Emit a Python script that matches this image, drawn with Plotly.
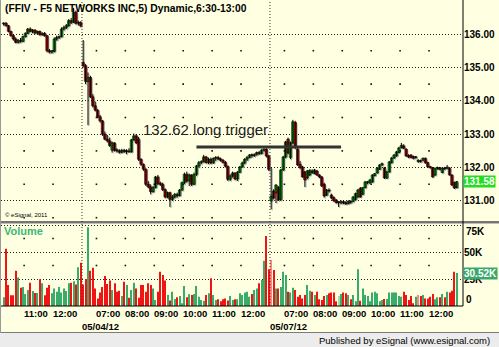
import plotly.graph_objects as go

# ---------------- data ----------------
TITLE = "(FFIV - F5 NETWORKS INC,5) Dynamic,6:30-13:00"
SESSION_DATES = ["05/03/12", "05/04/12", "05/07/12"]
SESSION_FIRST_BAR = ["10:15", "06:30", "06:30"]
SESSION_BARS = [33, 78, 78]

OPEN = [
    # 05/03/12
    136.30, 136.32, 136.25, 136.08, 135.95, 135.85, 135.75, 135.80, 135.78, 135.92, 136.02,
    136.15, 136.08, 136.12, 136.03, 136.08, 135.98, 136.02, 135.95, 135.50, 135.46, 135.48,
    135.85, 135.90, 135.92, 136.15, 136.20, 136.25, 136.40, 136.35, 136.65, 136.32, 136.35,
    # 05/04/12
    135.15, 135.05, 134.58, 134.70, 134.12, 133.85, 133.72, 133.52, 133.40, 133.00, 132.85,
    132.80, 132.52, 132.74, 132.52, 132.50, 132.46, 132.52, 132.48, 132.50, 132.47, 132.83,
    132.95, 132.85, 132.25, 132.10, 131.95, 131.50, 131.42, 131.28, 131.40, 131.72, 131.52,
    131.50, 131.34, 131.12, 131.25, 131.05, 131.12, 131.20, 131.16, 131.33, 131.55, 131.80,
    131.60, 131.78, 131.50, 131.80, 132.05, 132.15, 132.18, 132.32, 132.15, 132.25, 132.14,
    132.28, 132.30, 132.26, 132.22, 132.16, 132.04, 131.65, 131.75, 131.84, 131.66, 131.86,
    132.02, 132.14, 132.25, 132.30, 132.38, 132.36, 132.40, 132.45, 132.42, 132.52, 132.55,
    132.35,
    # 05/07/12
    131.00, 131.30, 131.24, 131.40, 131.05, 131.93, 132.32, 132.85, 132.30, 132.74, 133.35,
    132.55, 132.10, 132.02, 131.87, 131.70, 131.78, 131.90, 131.82, 131.90, 131.78, 131.72,
    131.50, 131.18, 131.33, 131.18, 131.10, 131.03, 130.97, 130.95, 130.98, 130.94, 130.92,
    130.99, 130.99, 131.05, 131.12, 131.38, 131.20, 131.40, 131.55, 131.54, 131.57, 131.76,
    131.84, 131.95, 132.08, 131.99, 131.69, 131.87, 132.15, 132.29, 132.35, 132.45, 132.60,
    132.65, 132.55, 132.36, 132.38, 132.33, 132.30, 132.18, 132.20, 132.22, 132.28, 132.15,
    132.02, 132.00, 131.78, 131.96, 132.00, 131.85, 131.98, 131.98, 131.99, 131.78, 131.55,
    131.40,
]
HIGH = [
    136.35, 136.36, 136.27, 136.10, 136.00, 135.90, 135.85, 135.88, 135.95, 136.05, 136.18,
    136.20, 136.15, 136.14, 136.10, 136.10, 136.05, 136.06, 135.97, 135.55, 135.52, 135.90,
    135.95, 135.95, 136.20, 136.25, 136.30, 136.45, 136.48, 136.78, 136.70, 136.40, 136.38,
    135.82, 135.10, 134.85, 134.75, 134.20, 133.98, 133.75, 133.58, 133.42, 133.08, 132.98,
    132.90, 132.78, 132.76, 132.58, 132.55, 132.56, 132.56, 132.55, 132.58, 132.86, 133.02,
    133.00, 132.92, 132.28, 132.12, 131.98, 131.60, 131.50, 131.45, 131.75, 131.78, 131.58,
    131.55, 131.38, 131.28, 131.28, 131.18, 131.24, 131.25, 131.36, 131.58, 131.85, 131.88,
    131.82, 131.80, 131.85, 132.08, 132.20, 132.22, 132.38, 132.35, 132.30, 132.30, 132.30,
    132.34, 132.35, 132.30, 132.26, 132.20, 132.06, 131.80, 131.88, 131.86, 131.90, 132.05,
    132.18, 132.28, 132.35, 132.40, 132.42, 132.42, 132.48, 132.50, 132.55, 132.58, 132.58,
    132.38,
    132.00, 131.35, 131.50, 131.45, 131.96, 132.35, 132.80, 132.90, 132.78, 133.43, 133.40,
    132.60, 132.20, 132.05, 131.90, 131.93, 131.95, 131.95, 131.96, 131.93, 131.80, 131.75,
    131.55, 131.36, 131.38, 131.22, 131.14, 131.06, 131.00, 131.02, 131.02, 131.00, 131.02,
    131.02, 131.15, 131.25, 131.36, 131.42, 131.42, 131.60, 131.60, 131.66, 131.80, 131.84,
    132.01, 132.10, 132.15, 132.02, 131.90, 132.20, 132.32, 132.40, 132.50, 132.62, 132.74,
    132.70, 132.58, 132.40, 132.40, 132.36, 132.35, 132.25, 132.24, 132.30, 132.30, 132.18,
    132.05, 132.02, 132.00, 132.03, 132.02, 132.00, 132.02, 132.08, 132.01, 131.80, 131.58,
    131.60,
]
LOW = [
    136.25, 136.22, 136.05, 135.92, 135.80, 135.72, 135.72, 135.74, 135.76, 135.90, 136.00,
    136.05, 136.02, 136.00, 136.00, 135.95, 135.95, 135.92, 135.45, 135.42, 135.42, 135.45,
    135.80, 135.85, 135.90, 136.10, 136.15, 136.22, 136.30, 136.33, 136.28, 136.25, 136.20,
    135.00, 134.50, 133.27, 134.08, 133.80, 133.68, 133.48, 133.35, 132.95, 132.82, 132.75,
    132.62, 132.45, 132.48, 132.45, 132.42, 132.43, 132.44, 132.40, 132.45, 132.45, 132.80,
    132.70, 132.20, 132.05, 131.90, 131.45, 131.38, 131.20, 131.25, 131.38, 131.48, 131.45,
    131.30, 131.08, 131.08, 130.82, 131.00, 131.08, 131.10, 131.14, 131.30, 131.50, 131.55,
    131.45, 131.45, 131.48, 131.75, 132.00, 132.10, 132.15, 132.12, 132.10, 132.10, 132.12,
    132.20, 132.22, 132.18, 132.12, 132.00, 131.60, 131.60, 131.70, 131.62, 131.60, 131.84,
    132.00, 132.10, 132.20, 132.28, 132.30, 132.32, 132.36, 132.38, 132.40, 132.48, 132.30,
    131.90,
    130.75, 131.05, 130.94, 131.00, 131.00, 131.90, 132.28, 132.40, 132.25, 132.70, 132.55,
    132.05, 131.95, 131.70, 131.42, 131.65, 131.75, 131.82, 131.80, 131.75, 131.68, 131.42,
    131.10, 131.15, 131.25, 131.05, 130.98, 130.92, 130.82, 130.90, 130.90, 130.88, 130.90,
    130.92, 130.96, 131.02, 131.10, 131.10, 131.18, 131.38, 131.50, 131.52, 131.55, 131.74,
    131.82, 131.93, 132.05, 131.66, 131.66, 131.85, 132.12, 132.26, 132.33, 132.43, 132.57,
    132.55, 132.32, 132.28, 132.28, 132.25, 132.27, 132.15, 132.15, 132.20, 132.12, 132.00,
    131.97, 131.70, 131.75, 131.94, 131.92, 131.83, 131.93, 131.96, 131.76, 131.45, 131.36,
    131.38,
]
CLOSE = [
    136.32, 136.25, 136.08, 135.95, 135.85, 135.75, 135.80, 135.78, 135.92, 136.02, 136.15,
    136.08, 136.12, 136.03, 136.08, 135.98, 136.02, 135.95, 135.50, 135.46, 135.48, 135.85,
    135.90, 135.92, 136.15, 136.20, 136.25, 136.40, 136.35, 136.65, 136.32, 136.35, 136.25,
    135.05, 134.58, 134.70, 134.12, 133.85, 133.72, 133.52, 133.40, 133.00, 132.85, 132.80,
    132.66, 132.74, 132.52, 132.50, 132.46, 132.52, 132.48, 132.50, 132.47, 132.83, 132.95,
    132.74, 132.25, 132.10, 131.95, 131.50, 131.42, 131.28, 131.40, 131.72, 131.52, 131.50,
    131.34, 131.12, 131.25, 131.05, 131.12, 131.20, 131.16, 131.33, 131.55, 131.80, 131.60,
    131.78, 131.50, 131.80, 132.05, 132.15, 132.18, 132.32, 132.15, 132.25, 132.14, 132.28,
    132.30, 132.26, 132.22, 132.16, 132.04, 131.65, 131.75, 131.84, 131.66, 131.86, 132.02,
    132.14, 132.25, 132.30, 132.38, 132.36, 132.40, 132.45, 132.42, 132.52, 132.55, 132.35,
    131.95,
    131.15, 131.09, 131.48, 131.03, 131.93, 132.32, 132.77, 132.44, 132.74, 133.37, 132.62,
    132.08, 132.00, 131.72, 131.63, 131.90, 131.92, 131.85, 131.93, 131.78, 131.72, 131.45,
    131.15, 131.33, 131.30, 131.09, 131.00, 130.95, 130.95, 130.98, 130.94, 130.92, 130.99,
    130.96, 131.12, 131.22, 131.33, 131.12, 131.40, 131.57, 131.57, 131.63, 131.78, 131.82,
    131.99, 132.08, 132.12, 131.69, 131.87, 132.17, 132.29, 132.38, 132.47, 132.59, 132.66,
    132.58, 132.35, 132.32, 132.30, 132.28, 132.32, 132.22, 132.18, 132.28, 132.14, 132.02,
    132.00, 131.72, 131.98, 132.00, 131.95, 131.98, 131.96, 132.00, 131.78, 131.48, 131.39,
    131.58,
]
VOLUME_K = [
    8, 53, 19.4, 10, 10, 32.7, 26.5, 17, 17.5, 11, 14.8, 21.6, 14, 12, 12, 24.7, 21, 10, 17,
    19.4, 11.7, 16.3, 13.3, 17.5, 12.6, 16.3, 14, 21, 21.6, 23, 20, 35.8, 40,
    20, 25, 72.9, 32.7, 35.5, 16.3, 7, 12.4, 17.5, 27.8, 20.4, 23.5, 14.8, 21, 13.3, 14.2,
    9.3, 22.5, 19.4, 7.7, 14.8, 21.6, 16.3, 7.7, 19.4, 19.4, 13.3, 21, 19.4, 16.3, 5.6, 13.3,
    31.8, 28.7, 23.5, 10.2, 5, 13.3, 6.5, 8, 9.3, 2.5, 18.5, 8, 10.8, 10.2, 11, 18.5, 8.6,
    5.6, 4.9, 10.2, 11.7, 25.6, 10.2, 5.6, 6.2, 4.3, 6.2, 7, 5, 9.3, 5.6, 6.2, 6.2, 11.7,
    10.2, 12.4, 13.3, 8.6, 11, 14.8, 16.3, 21, 24, 42, 64.8, 34,
    42.6, 33.3, 16.3, 16.3, 17.5, 31.8, 28.7, 13.3, 12.4, 17, 14.8, 8.6, 10.2, 7, 10.2, 19.4,
    14.2, 13.3, 10.2, 13.3, 6.2, 5.6, 9.3, 10.2, 11.7, 12.4, 12.4, 4.3, 9.3, 11, 12.4, 11.7,
    10.2, 6.2, 10.2, 4.3, 34, 4.9, 16.3, 10.2, 9.3, 4.3, 12.4, 13.3, 11.7, 4.3, 5.6, 6.5,
    6.5, 12.4, 12.4, 12.4, 12.4, 9.3, 8.6, 13.3, 10.2, 5.6, 9.3, 2.5, 8.6, 10.2, 9.3, 10.2,
    7, 7, 8.6, 11, 6.2, 8, 8, 11, 8, 13.3, 12.4, 14.2, 31.8, 30.52,
]

HOUR_TICKS = [
    ("05/03/12", "11:00"), ("05/03/12", "12:00"),
    ("05/04/12", "07:00"), ("05/04/12", "08:00"), ("05/04/12", "09:00"),
    ("05/04/12", "10:00"), ("05/04/12", "11:00"), ("05/04/12", "12:00"),
    ("05/07/12", "07:00"), ("05/07/12", "08:00"), ("05/07/12", "09:00"),
    ("05/07/12", "10:00"), ("05/07/12", "11:00"), ("05/07/12", "12:00"),
]
DATE_LABELS = ["05/04/12", "05/07/12"]
PRICE_TICKS = [131, 132, 133, 134, 135, 136]
VOLUME_TICKS = [0, 25, 50, 75]
PRICE_RANGE = [130.371, 137.018]
VOLUME_RANGE = [0, 76.85]
LAST_VOLUME_K = 30.52
TRIGGER_PRICE = 132.62
TRIGGER_FROM = ("05/04/12", "10:25")
TRIGGER_TO = ("05/07/12", "08:55")
TRIGGER_TEXT = "132.62 long trigger"
TRIGGER_TEXT_AT = ("05/04/12", "08:30", 133.13)

# ---------------- helpers ----------------
def to_min(hhmm):
    h, m = hhmm.split(":")
    return int(h) * 60 + int(m)

def bar_index(date, hhmm):
    d = SESSION_DATES.index(date)
    return sum(SESSION_BARS[:d]) + (to_min(hhmm) - to_min(SESSION_FIRST_BAR[d])) / 5

n = len(CLOSE)
X = list(range(n))
XR = [-1.1, 190.6]

BG = "#FFFFE1"
FONT = "Liberation Sans, Arial, sans-serif"
UP, DN = "#00DD00", "#FF0000"
SHADOW = "#B0B0B0"

body_base = [min(o, c) for o, c in zip(OPEN, CLOSE)]
body_h = [max(abs(c - o), 0.03) for o, c in zip(OPEN, CLOSE)]
body_col = [UP if c >= o else DN for o, c in zip(OPEN, CLOSE)]
wick_x, wick_y = [], []
for i in X:
    wick_x += [i, i, None]
    wick_y += [LOW[i], HIGH[i], None]

vol_colors = []
for i in range(n):
    prev = CLOSE[i - 1] if i > 0 else OPEN[i]
    if CLOSE[i] >= prev:
        vol_colors.append("#38AC6A" if CLOSE[i] >= OPEN[i] else "#A2DBAC")
    else:
        vol_colors.append("#F01414" if CLOSE[i] <= OPEN[i] else "#F7877F")

fig = go.Figure()

# shadow candles (base axes with slightly shifted ranges)
fig.add_trace(go.Scatter(x=wick_x, y=wick_y, mode="lines", line=dict(color=SHADOW, width=1),
                         xaxis="x", yaxis="y", hoverinfo="skip", showlegend=False))
fig.add_trace(go.Bar(x=X, y=body_h, base=body_base, width=1.0,
                     marker=dict(color=SHADOW, line=dict(color=SHADOW, width=0)),
                     xaxis="x", yaxis="y", hoverinfo="skip", showlegend=False))

# main candles (overlay axes)
fig.add_trace(go.Scatter(x=wick_x, y=wick_y, mode="lines", line=dict(color="#000000", width=1),
                         xaxis="x3", yaxis="y3", hoverinfo="skip", showlegend=False))
fig.add_trace(go.Bar(x=X, y=body_h, base=body_base, width=1.0,
                     marker=dict(color=body_col, line=dict(color="#000000", width=0.6)),
                     xaxis="x3", yaxis="y3", hoverinfo="skip", showlegend=False))

# vertical grid dots
tick_pos = [bar_index(d, t) - 0.5 for d, t in HOUR_TICKS]
half_levels = [p + 0.5 for p in [130] + PRICE_TICKS[:-1]]
fig.add_trace(go.Scatter(
    x=[x for x in tick_pos for _ in half_levels],
    y=[y for _ in tick_pos for y in half_levels],
    mode="markers", marker=dict(symbol="square", size=1.6, color="#111111", line_width=0),
    xaxis="x3", yaxis="y3", hoverinfo="skip", showlegend=False))
vhalf = [v + 12.5 for v in VOLUME_TICKS[1:3]]
fig.add_trace(go.Scatter(
    x=[x for x in tick_pos for _ in vhalf],
    y=[y for _ in tick_pos for y in vhalf],
    mode="markers", marker=dict(symbol="square", size=1.6, color="#111111", line_width=0),
    xaxis="x2", yaxis="y2", hoverinfo="skip", showlegend=False))

# volume
fig.add_trace(go.Bar(
    x=X, y=VOLUME_K, marker=dict(color=vol_colors, line_width=0), width=0.42,
    xaxis="x2", yaxis="y2", hoverinfo="skip", showlegend=False))

PRICE_DOM = [84 / 306, 1]
VOL_DOM = [0, 83 / 306]
griddash = "1px,2px"

fig.update_layout(
    width=499, height=347,
    margin=dict(l=1, r=36, t=0, b=41),
    paper_bgcolor=BG, plot_bgcolor=BG,
    showlegend=False, hovermode=False, barmode="overlay",
    font=dict(family=FONT, color="#000000"),
    xaxis=dict(domain=[0, 1], anchor="y", range=[XR[0] - 0.45, XR[1] - 0.45], visible=False),
    yaxis=dict(domain=PRICE_DOM, anchor="x", range=[PRICE_RANGE[0] + 0.03, PRICE_RANGE[1] + 0.03],
               visible=False),
    xaxis3=dict(overlaying="x", anchor="y3", range=XR, visible=False),
    yaxis3=dict(overlaying="y", anchor="x3", side="right", range=PRICE_RANGE,
                tickvals=PRICE_TICKS, ticktext=[f"{p:.2f}" for p in PRICE_TICKS],
                showgrid=True, gridcolor="#222222", gridwidth=1, griddash=griddash,
                zeroline=False, ticks="", showline=False,
                tickfont=dict(family=FONT, size=10, color="#000000", weight="bold")),
    xaxis2=dict(domain=[0, 1], anchor="y2", range=XR, visible=False),
    yaxis2=dict(domain=VOL_DOM, anchor="x2", side="right", range=VOLUME_RANGE,
                tickvals=VOLUME_TICKS[1:], ticktext=["25K", "50K", ""],
                showgrid=True, gridcolor="#222222", gridwidth=1, griddash=griddash,
                zeroline=False, ticks="", showline=False,
                tickfont=dict(family=FONT, size=10, color="#000000", weight="bold")),
)

def px_x(px):
    return (px - 1) / 462

def px_y(py):
    return (306 - py) / 306

shapes = []
shapes.append(dict(type="rect", xref="paper", yref="paper", x0=px_x(-2), x1=px_x(501),
                   y0=px_y(349), y1=px_y(333), fillcolor="#ECECEC", line_width=0, layer="below"))
shapes.append(dict(type="line", xref="paper", yref="paper", x0=px_x(-2), x1=px_x(501),
                   y0=px_y(332.5), y1=px_y(332.5), line=dict(color="#7A7A7A", width=1)))
shapes.append(dict(type="line", xref="paper", yref="paper", x0=px_x(-2), x1=px_x(501),
                   y0=px_y(222), y1=px_y(222), line=dict(color="#4A4A4A", width=1.5)))
shapes.append(dict(type="line", xref="paper", yref="paper", x0=px_x(-2), x1=px_x(501),
                   y0=px_y(223.5), y1=px_y(223.5), line=dict(color="#BDBDBD", width=1)))
shapes.append(dict(type="line", xref="paper", yref="paper", x0=px_x(0), x1=1,
                   y0=0, y1=0, line=dict(color="#000000", width=1)))
shapes.append(dict(type="line", xref="paper", yref="paper", x0=1, x1=1,
                   y0=0, y1=1, line=dict(color="#000000", width=1)))
shapes.append(dict(type="line", xref="paper", yref="paper", x0=px_x(0.5), x1=px_x(0.5),
                   y0=px_y(333), y1=1, line=dict(color="#9A9A9A", width=1)))
for d in SESSION_DATES[1:]:
    xb = bar_index(d, SESSION_FIRST_BAR[SESSION_DATES.index(d)]) - 0.5
    shapes.append(dict(type="line", xref="x3", yref="paper", x0=xb, x1=xb, y0=0, y1=1,
                       line=dict(color="#333333", width=1, dash=griddash)))
shapes.append(dict(type="line", xref="x3", yref="y3",
                   x0=bar_index(*TRIGGER_FROM), x1=bar_index(*TRIGGER_TO),
                   y0=TRIGGER_PRICE, y1=TRIGGER_PRICE,
                   line=dict(color="#333333", width=3)))
fig.update_layout(shapes=shapes)

ann = []
ann.append(dict(text=f"<b>{TITLE}</b>", xref="paper", yref="paper", x=px_x(2.5), y=px_y(8),
                xanchor="left", yanchor="middle", showarrow=False,
                font=dict(family=FONT, size=10.3, color="#000000")))
ann.append(dict(text="© eSignal, 2011", xref="paper", yref="paper", x=px_x(2.5), y=px_y(215),
                xanchor="left", yanchor="middle", showarrow=False,
                font=dict(family=FONT, size=6, color="#000000")))
ann.append(dict(text="<b>Volume</b>", xref="paper", yref="paper", x=px_x(2), y=px_y(231),
                xanchor="left", yanchor="middle", showarrow=False,
                font=dict(family=FONT, size=11, color="#3DB678")))
for (d, t), xp in zip(HOUR_TICKS, tick_pos):
    ann.append(dict(text=f"<b>{t}</b>", xref="x3", yref="paper", x=xp, y=px_y(313),
                    xanchor="left", yanchor="middle", showarrow=False, xshift=-2,
                    font=dict(family=FONT, size=9.5, color="#000000")))
for d in DATE_LABELS:
    xb = bar_index(d, SESSION_FIRST_BAR[SESSION_DATES.index(d)]) - 0.5
    ann.append(dict(text=f"<b>{d}</b>", xref="x3", yref="paper", x=xb, y=px_y(326),
                    xanchor="left", yanchor="middle", showarrow=False, xshift=-2,
                    font=dict(family=FONT, size=9.5, color="#000000")))
ann.append(dict(text=TRIGGER_TEXT, xref="x3", yref="y3",
                x=bar_index(TRIGGER_TEXT_AT[0], TRIGGER_TEXT_AT[1]), y=TRIGGER_TEXT_AT[2],
                xanchor="left", yanchor="middle", showarrow=False,
                font=dict(family=FONT, size=15, color="#222222")))
ann.append(dict(text="<b>75K</b>", xref="paper", yref="y2", x=1, y=VOLUME_TICKS[3], yshift=-6.5,
                xanchor="left", yanchor="middle", showarrow=False, xshift=1,
                font=dict(family=FONT, size=10, color="#000000")))
ann.append(dict(text="<b>0</b>", xref="paper", yref="y2", x=1, y=VOLUME_TICKS[0], yshift=6.3,
                xanchor="left", yanchor="middle", showarrow=False, xshift=1,
                font=dict(family=FONT, size=10, color="#000000")))
ann.append(dict(text=f"<b>{CLOSE[-1]:.2f}</b>", xref="paper", yref="y3", x=1, y=CLOSE[-1],
                xanchor="left", yanchor="middle", showarrow=False, bgcolor="#22DD22",
                borderpad=0, font=dict(family=FONT, size=10, color="#FFFFFF")))
ann.append(dict(text=f"<b>{LAST_VOLUME_K:.2f}K</b>", xref="paper", yref="y2", x=1, y=LAST_VOLUME_K,
                xanchor="left", yanchor="middle", showarrow=False, bgcolor="#3AA86A",
                borderpad=0, font=dict(family=FONT, size=10, color="#FFFFFF")))
ann.append(dict(text="Published by eSignal (www.esignal.com)", xref="paper", yref="paper",
                x=px_x(492), y=px_y(340), xanchor="right", yanchor="middle", showarrow=False,
                font=dict(family=FONT, size=9.5, color="#000000")))
fig.update_layout(annotations=ann)

fig.write_html("out.html")
